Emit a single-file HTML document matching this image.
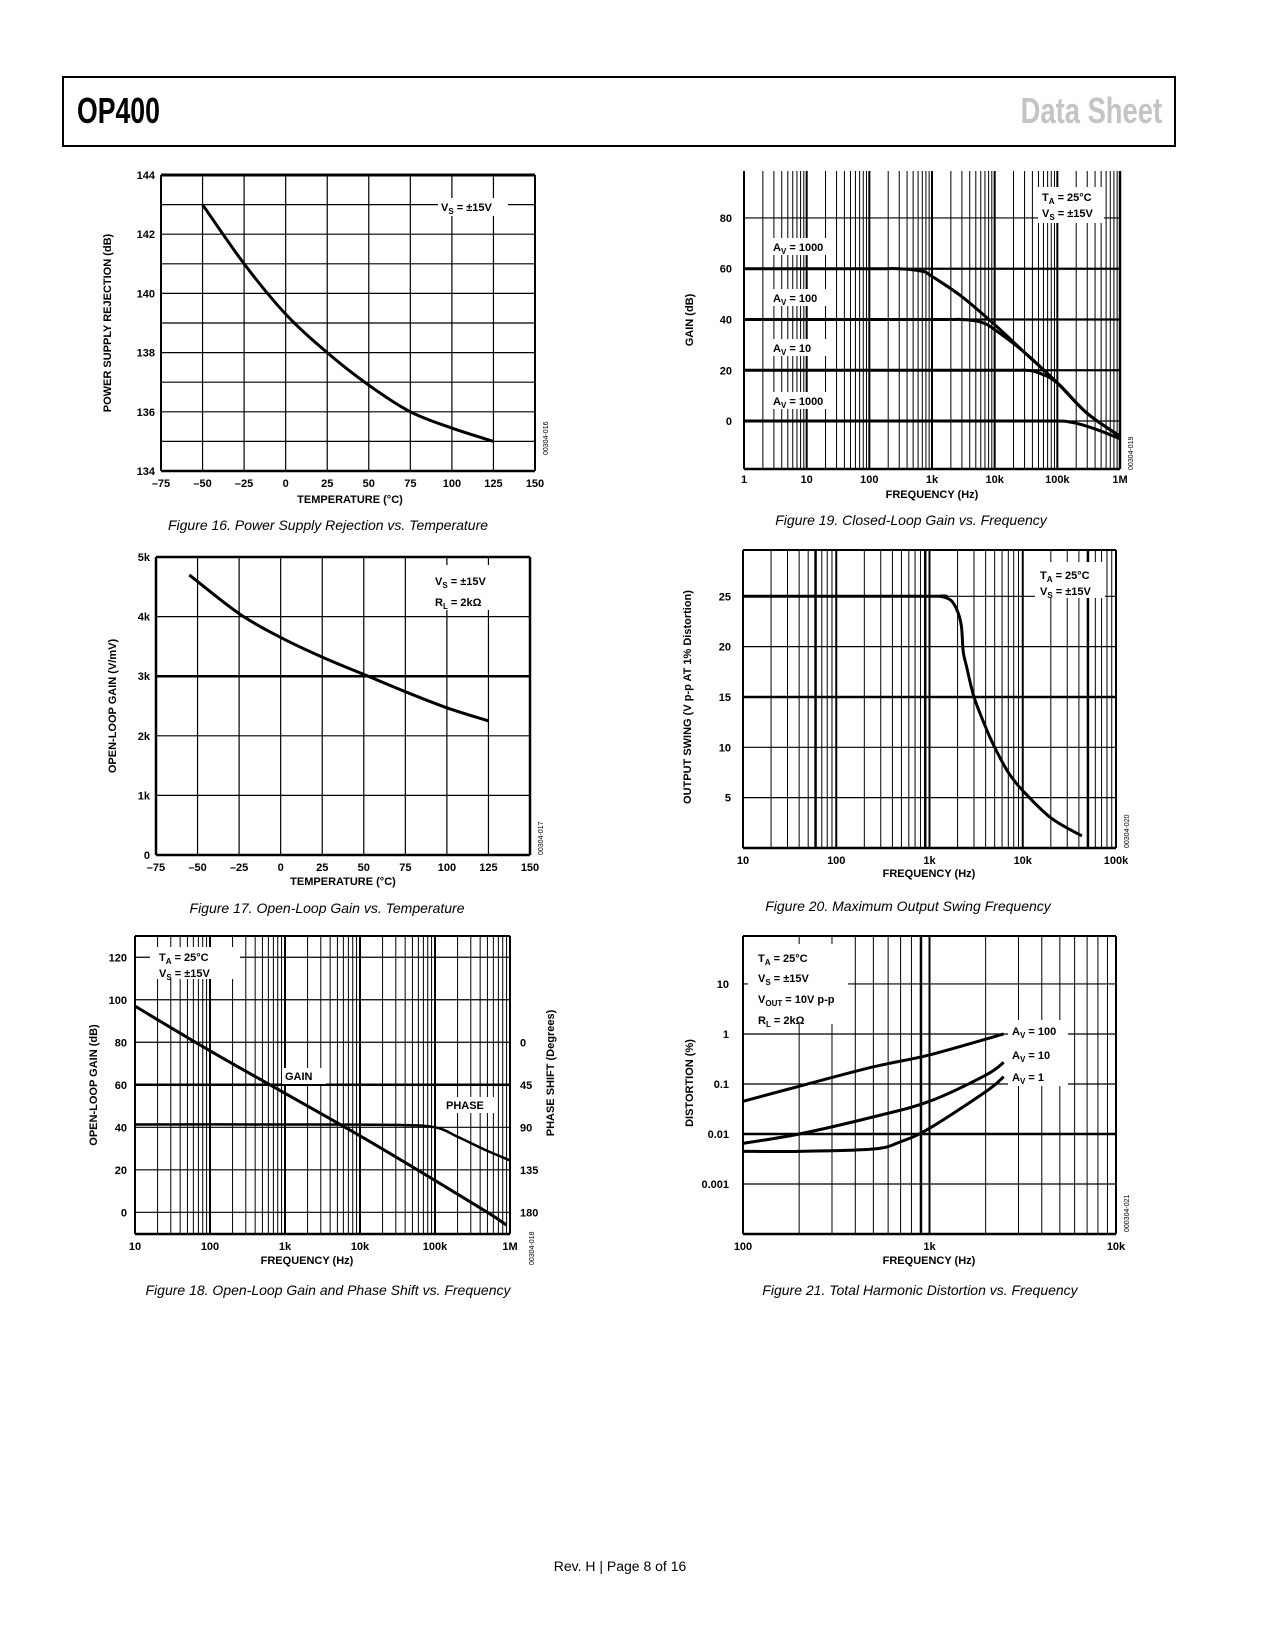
<!DOCTYPE html>
<html><head><meta charset="utf-8">
<style>
html,body{margin:0;padding:0;background:#fff;}
body{width:1275px;height:1650px;position:relative;overflow:hidden;font-family:"Liberation Sans",sans-serif;}
#hdr{position:absolute;left:62px;top:76px;width:1110px;height:67px;border:2px solid #000;}
#t1{position:absolute;left:13px;top:12px;font:bold 36px "Liberation Sans",sans-serif;transform:scaleX(0.74);transform-origin:left top;}
#t2{position:absolute;right:12px;top:12px;font:bold 36px "Liberation Sans",sans-serif;color:#c4c4c4;transform:scaleX(0.76);transform-origin:right top;}
#foot{position:absolute;left:0;width:1240px;text-align:center;top:1558px;font-size:14px;}
svg{position:absolute;left:0;top:0;}
</style></head><body>
<div id="hdr"><div id="t1">OP400</div><div id="t2">Data Sheet</div></div>
<div id="foot">Rev. H | Page 8 of 16</div>
<svg id="s" width="1275" height="1650"></svg>
<script>
// Fig16 data
const f16Temp=[-50,-25,0,25,50,75,100,125];
const f16Psr=[143,141,139.3,138,136.9,136,135.45,135];
// Fig17 data
const f17Temp=[-55,-25,0,25,50,75,100,125];
const f17Gain=[4700,4050,3650,3320,3030,2740,2470,2250];
// Fig19 data
const f19Freq=[1,100,300,700,1000,3000,10000,30000,100000,300000,1000000];
const f19Av1000=[60,60,60,59,57,49,38,27,15,3,-6];
const f19Av100Freq=[1,1000,3000,6000,10000,30000,100000,300000,1000000];
const f19Av100=[40,40,40,39,36,27,15,3,-6];
const f19Av10Freq=[1,10000,30000,50000,100000,300000,1000000];
const f19Av10=[20,20,20,19,15,3,-6];
const f19Av1Freq=[1,10000,100000,150000,250000,500000,1000000];
const f19Av1=[0,0,0,-0.3,-1.5,-4,-7];
// Fig20 data
const f20Freq=[10,1000,1300,1700,2000,2200,2300,2500,3000,4000,5000,7000,10000,20000,43000];
const f20Swing=[25,25,25,24.6,23.5,22,19.5,18,15,12,10,7.5,5.7,3,1.2];
// Fig18 data
const f18Freq=[10,100,1000,10000,100000,500000,900000];
const f18Gain=[97,76,56,36,15,0,-6];
const f18PhFreq=[10,1000,30000,100000,200000,500000,1000000];
const f18Phase=[87,87,87.5,90,100,115,125];
// Fig21 data
const f21Freq100=[100,200,500,1000,2500];
const f21Av100=[0.045,0.09,0.22,0.38,1.0];
const f21Freq10=[100,200,500,1000,2000,2500];
const f21Av10=[0.0065,0.01,0.022,0.045,0.15,0.27];
const f21Freq1=[100,200,500,700,1000,2000,2500];
const f21Av1=[0.0045,0.0045,0.005,0.007,0.013,0.07,0.14];

const S=document.getElementById('s');
const NS='http://www.w3.org/2000/svg';
function mk(tag,at,parent){const e=document.createElementNS(NS,tag);for(const k in at)e.setAttribute(k,at[k]);(parent||S).appendChild(e);return e;}
function lin(d0,d1,r0,r1){return v=>r0+(v-d0)/(d1-d0)*(r1-r0);}
function lg(d0,d1,r0,r1){return v=>r0+(Math.log10(v)-Math.log10(d0))/(Math.log10(d1)-Math.log10(d0))*(r1-r0);}
function line(x1,y1,x2,y2,w,name){const l=mk('line',{x1,y1,x2,y2,stroke:'#000','stroke-width':w});

return l;}
function txt(x,y,s,opt,name){opt=opt||{};const t=mk('text',{x,y,'font-size':opt.fs||11,'font-weight':opt.fw||'bold','text-anchor':opt.a||'start','font-family':'Liberation Sans, sans-serif',fill:'#000'});
if(opt.rot)t.setAttribute('transform','rotate('+opt.rot+' '+x+' '+y+')');
if(opt.it)t.setAttribute('font-style','italic');
t.innerHTML=s;

return t;}
function curve(xs,ys,X,Y,name,w){const p=xs.map((v,i)=>[X(v),Y(ys[i])]);let d='M'+p[0][0]+','+p[0][1];
for(let i=0;i<p.length-1;i++){const p0=p[Math.max(0,i-1)],p1=p[i],p2=p[i+1],p3=p[Math.min(p.length-1,i+2)];
const c1=[p1[0]+(p2[0]-p0[0])/6,p1[1]+(p2[1]-p0[1])/6],c2=[p2[0]-(p3[0]-p1[0])/6,p2[1]-(p3[1]-p1[1])/6];
d+=' C'+c1+' '+c2+' '+p2;}
const e=mk('path',{d,fill:'none',stroke:'#000','stroke-width':w||3,'stroke-linejoin':'round'});

return e;}
function whiteBox(x,y,w,h,name){const r=mk('rect',{x,y,width:w,height:h,fill:'#fff'});

}
function logGrid(L,R,T,B,f0,f1,X,thick){for(let d=f0;d<f1;d*=10){for(let m=1;m<10;m++){const f=d*m;const x=X(f);if(x<=L+0.5)continue;line(x,T,x,B,m===1?2:1,'v-gridline');}}}

// ---------- Fig 16 ----------
(function(){const L=161,R=535,T=175,B=471;const X=lin(-75,150,L,R),Y=lin(134,144,B,T);
for(let t=-50;t<150;t+=25)line(X(t),T,X(t),B,1.2,'v-gridline');
for(let v=135;v<144;v++)line(L,Y(v),R,Y(v),1.2,'h-gridline');
line(L,T,R,T,3,'plot-top-border');line(L,B,R,B,2.5,'x-axis');line(L,T,L,B,2,'y-axis');line(R,T,R,B,2,'plot-right-border');
whiteBox(438,198,70,18,'legend-bg');txt(441,211,'V<tspan font-size="8" dy="3">S</tspan><tspan dy="-3"> =  ±15V</tspan>',{},'legend-vs');
for(let v=134;v<=144;v+=2)txt(L-6,Y(v)+4,v,{a:'end'},'y-tick-label');
for(let t=-75;t<=150;t+=25)txt(X(t),B+16,t<0?'–'+(-t):t,{a:'middle'},'x-tick-label');
txt(350,503,'TEMPERATURE (°C)',{a:'middle'},'x-axis-title');
txt(111,323,'POWER SUPPLY REJECTION (dB)',{a:'middle',rot:-90},'y-axis-title');
txt(548,455,'00304-016',{a:'start',rot:-90,fs:7,fw:'normal'},'figure-code');
curve(f16Temp,f16Psr,X,Y,'psr-curve');
txt(328,530,'Figure 16. Power Supply Rejection vs. Temperature',{a:'middle',fs:14,fw:'normal',it:1},'caption-fig16');})();

// ---------- Fig 17 ----------
(function(){const L=156,R=530,T=557,B=855;const X=lin(-75,150,L,R),Y=lin(0,5000,B,T);
for(let t=-50;t<150;t+=25)line(X(t),T,X(t),B,1.2,'v-gridline');
for(let v=1000;v<5000;v+=1000)line(L,Y(v),R,Y(v),v===3000?2.5:1.2,'h-gridline');
line(L,T,R,T,2.5,'plot-top-border');line(L,B,R,B,2.5,'x-axis');line(L,T,L,B,2.5,'y-axis');line(R,T,R,B,2.5,'plot-right-border');
whiteBox(430,565,85,45,'legend-bg');
txt(435,585,'V<tspan font-size="8" dy="3">S</tspan><tspan dy="-3"> =  ±15V</tspan>',{},'legend-vs');
txt(435,606,'R<tspan font-size="8" dy="3">L</tspan><tspan dy="-3"> = 2kΩ</tspan>',{},'legend-rl');
const lab=['0','1k','2k','3k','4k','5k'];for(let i=0;i<6;i++)txt(L-6,Y(i*1000)+4,lab[i],{a:'end'},'y-tick-label');
for(let t=-75;t<=150;t+=25)txt(X(t),B+16,t<0?'–'+(-t):t,{a:'middle'},'x-tick-label');
txt(343,885,'TEMPERATURE (°C)',{a:'middle'},'x-axis-title');
txt(116,706,'OPEN-LOOP GAIN (V/mV)',{a:'middle',rot:-90},'y-axis-title');
txt(543,855,'00304-017',{rot:-90,fs:7,fw:'normal'},'figure-code');
curve(f17Temp,f17Gain,X,Y,'gain-curve');
txt(327,913,'Figure 17. Open-Loop Gain vs. Temperature',{a:'middle',fs:14,fw:'normal',it:1},'caption-fig17');})();

// ---------- Fig 18 ----------
(function(){const L=135,R=510,T=936,B=1234;const X=lg(10,1e6,L,R),Y=lin(-10.2,130,B,T);
logGrid(L,R,T,B,10,1e6,X);
for(let v=0;v<=120;v+=20)line(L,Y(v),R,Y(v),v===60?2.5:1.2,'h-gridline');
line(L,T,R,T,2,'plot-top-border');line(L,B,R,B,2.5,'x-axis');line(L,T,L,B,2,'y-axis');line(R,T,R,B,2,'plot-right-border');
whiteBox(150,947,90,32,'legend-bg');
txt(159,961,'T<tspan font-size="8" dy="3">A</tspan><tspan dy="-3"> = 25°C</tspan>',{},'legend-ta');
txt(159,977,'V<tspan font-size="8" dy="3">S</tspan><tspan dy="-3"> = ±15V</tspan>',{},'legend-vs');
whiteBox(282,1068,44,16,'gain-label-bg');txt(285,1080,'GAIN',{},'gain-label');
whiteBox(444,1097,52,16,'phase-label-bg');txt(446,1109,'PHASE',{},'phase-label');
for(let v=0;v<=120;v+=20)txt(L-8,Y(v)+4,v,{a:'end'},'y-tick-label');
const ph=[0,45,90,135,180];ph.forEach(p=>txt(520,Y(80-p*20/45)+4,p,{},'phase-tick-label'));
const xl=['10','100','1k','10k','100k','1M'];xl.forEach((s,i)=>txt(X(10*Math.pow(10,i)),B+16,s,{a:'middle'},'x-tick-label'));
txt(307,1264,'FREQUENCY (Hz)',{a:'middle'},'x-axis-title');
txt(97,1085,'OPEN-LOOP GAIN (dB)',{a:'middle',rot:-90},'y-axis-title');
txt(554,1073,'PHASE SHIFT (Degrees)',{a:'middle',rot:-90},'y2-axis-title');
txt(534,1265,'00304-018',{rot:-90,fs:7,fw:'normal'},'figure-code');
curve(f18PhFreq,f18Phase.map(p=>80-p*20/45),X,Y,'phase-curve',2.5);
curve(f18Freq,f18Gain,X,Y,'gain-curve');
txt(328,1295,'Figure 18. Open-Loop Gain and Phase Shift vs. Frequency',{a:'middle',fs:14,fw:'normal',it:1},'caption-fig18');})();

// ---------- Fig 19 ----------
(function(){const L=744,R=1120,T=171,B=469;const X=lg(1,1e6,L,R),Y=lin(-18.9,98.5,B,T);
logGrid(L,R,T,B,1,1e6,X);
for(let v=0;v<=80;v+=20)line(L,Y(v),R,Y(v),v===40||v===20||v===60?2.2:1.2,'h-gridline');
line(L,B,R,B,2.5,'x-axis');line(L,T,L,B,2,'y-axis');line(R,T,R,B,2.5,'plot-right-border');
whiteBox(1038,187,66,36,'legend-bg');
txt(1042,201,'T<tspan font-size="8" dy="3">A</tspan><tspan dy="-3"> = 25°C</tspan>',{},'legend-ta');
txt(1042,217,'V<tspan font-size="8" dy="3">S</tspan><tspan dy="-3"> = ±15V</tspan>',{},'legend-vs');
const av=[['1000',251],['100',302],['10',352],['1000',405]];
av.forEach(a=>{whiteBox(770,a[1]-13,62,17,'av-label-bg');txt(773,a[1],'A<tspan font-size="8" dy="3">V</tspan><tspan dy="-3"> = '+a[0]+'</tspan>',{},'av-label');});
for(let v=0;v<=80;v+=20)txt(L-12,Y(v)+4,v,{a:'end'},'y-tick-label');
const xl=['1','10','100','1k','10k','100k','1M'];xl.forEach((s,i)=>txt(X(Math.pow(10,i)),B+14,s,{a:'middle'},'x-tick-label'));
txt(932,498,'FREQUENCY (Hz)',{a:'middle'},'x-axis-title');
txt(693,320,'GAIN (dB)',{a:'middle',rot:-90},'y-axis-title');
txt(1133,470,'00304-019',{rot:-90,fs:7,fw:'normal'},'figure-code');
curve(f19Freq,f19Av1000,X,Y,'av1000-curve');
curve(f19Av100Freq,f19Av100,X,Y,'av100-curve');
curve(f19Av10Freq,f19Av10,X,Y,'av10-curve');
curve(f19Av1Freq,f19Av1,X,Y,'av1-curve');
txt(911,525,'Figure 19. Closed-Loop Gain vs. Frequency',{a:'middle',fs:14,fw:'normal',it:1},'caption-fig19');})();

// ---------- Fig 20 ----------
(function(){const L=743,R=1116,T=550,B=848;const X=lg(10,1e5,L,R),Y=lin(0,29.6,B,T);
logGrid(L,R,T,B,10,1e5,X);
[60,900,50000].forEach(f=>line(X(f),T,X(f),B,2.5,'thick-v-gridline'));
for(let v=5;v<=25;v+=5)line(L,Y(v),R,Y(v),v===15?2.5:1.2,'h-gridline');
line(L,T,R,T,2,'plot-top-border');line(L,B,R,B,2.5,'x-axis');line(L,T,L,B,2,'y-axis');line(R,T,R,B,2,'plot-right-border');
whiteBox(1035,562,70,36,'legend-bg');
txt(1040,579,'T<tspan font-size="8" dy="3">A</tspan><tspan dy="-3"> = 25°C</tspan>',{},'legend-ta');
txt(1040,595,'V<tspan font-size="8" dy="3">S</tspan><tspan dy="-3"> = ±15V</tspan>',{},'legend-vs');
for(let v=5;v<=25;v+=5)txt(L-12,Y(v)+4,v,{a:'end'},'y-tick-label');
const xl=['10','100','1k','10k','100k'];xl.forEach((s,i)=>txt(X(10*Math.pow(10,i)),B+16,s,{a:'middle'},'x-tick-label'));
txt(929,877,'FREQUENCY (Hz)',{a:'middle'},'x-axis-title');
txt(691,697,'OUTPUT SWING (V p-p AT 1% Distortion)',{a:'middle',rot:-90},'y-axis-title');
txt(1129,848,'00304-020',{rot:-90,fs:7,fw:'normal'},'figure-code');
curve(f20Freq,f20Swing,X,Y,'swing-curve');
txt(908,911,'Figure 20. Maximum Output Swing Frequency',{a:'middle',fs:14,fw:'normal',it:1},'caption-fig20');})();

// ---------- Fig 21 ----------
(function(){const L=743,R=1116,T=936,B=1234;const X=lg(100,1e4,L,R),Y=lg(1e-4,91,B,T);
logGrid(L,R,T,B,100,1e4,X);
line(X(900),T,X(900),B,2.5,'thick-v-gridline');
[0.001,0.01,0.1,1,10].forEach(v=>line(L,Y(v),R,Y(v),v===0.01?2.5:1.2,'h-gridline'));
line(L,T,R,T,2,'plot-top-border');line(L,B,R,B,2.5,'x-axis');line(L,T,L,B,2,'y-axis');line(R,T,R,B,2,'plot-right-border');
whiteBox(748,944,100,80,'legend-bg');
txt(758,962,'T<tspan font-size="8" dy="3">A</tspan><tspan dy="-3"> = 25°C</tspan>',{},'legend-ta');
txt(758,982,'V<tspan font-size="8" dy="3">S</tspan><tspan dy="-3"> = ±15V</tspan>',{},'legend-vs');
txt(758,1003,'V<tspan font-size="8" dy="3">OUT</tspan><tspan dy="-3"> = 10V p-p</tspan>',{},'legend-vout');
txt(758,1024,'R<tspan font-size="8" dy="3">L</tspan><tspan dy="-3"> = 2kΩ</tspan>',{},'legend-rl');
whiteBox(1008,1020,60,66,'av-labels-bg');
txt(1012,1035,'A<tspan font-size="8" dy="3">V</tspan><tspan dy="-3"> = 100</tspan>',{},'av100-label');
txt(1012,1059,'A<tspan font-size="8" dy="3">V</tspan><tspan dy="-3"> = 10</tspan>',{},'av10-label');
txt(1012,1081,'A<tspan font-size="8" dy="3">V</tspan><tspan dy="-3"> = 1</tspan>',{},'av1-label');
const yl=[[10,'10'],[1,'1'],[0.1,'0.1'],[0.01,'0.01'],[0.001,'0.001']];yl.forEach(a=>txt(L-14,Y(a[0])+4,a[1],{a:'end'},'y-tick-label'));
const xl=['100','1k','10k'];xl.forEach((s,i)=>txt(X(100*Math.pow(10,i)),B+16,s,{a:'middle'},'x-tick-label'));
txt(929,1264,'FREQUENCY (Hz)',{a:'middle'},'x-axis-title');
txt(693,1083,'DISTORTION (%)',{a:'middle',rot:-90},'y-axis-title');
txt(1129,1232,'000304-021',{rot:-90,fs:7,fw:'normal'},'figure-code');
curve(f21Freq100,f21Av100,X,Y,'av100-curve');
curve(f21Freq10,f21Av10,X,Y,'av10-curve');
curve(f21Freq1,f21Av1,X,Y,'av1-curve');
txt(920,1295,'Figure 21. Total Harmonic Distortion vs. Frequency',{a:'middle',fs:14,fw:'normal',it:1},'caption-fig21');})();
</script>
</body></html>
